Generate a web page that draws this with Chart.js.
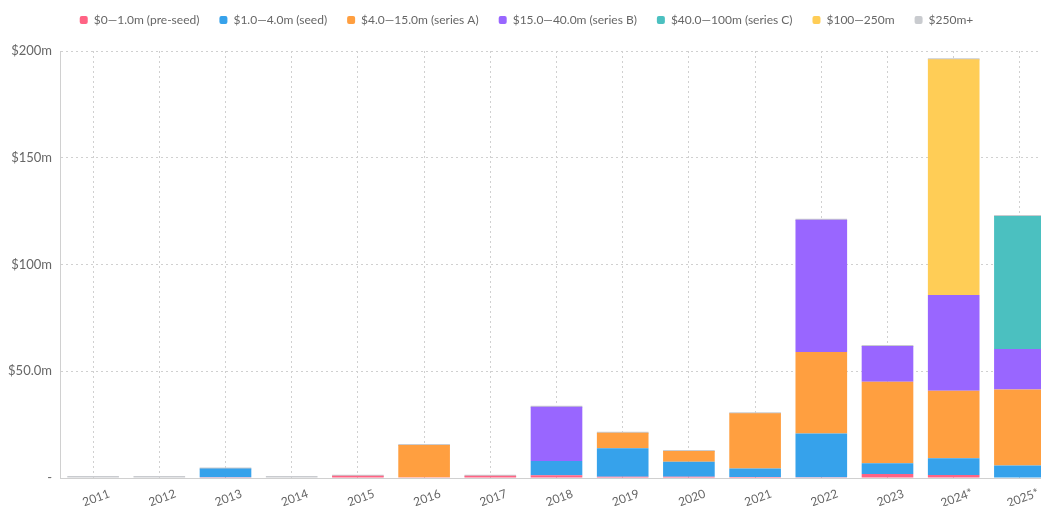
<!DOCTYPE html>
<html>
<head>
<meta charset="utf-8">
<title>Funding by round size</title>
<script src="https://cdn.jsdelivr.net/npm/chart.js@4"></script>
<style>
  html, body { margin: 0; padding: 0; background: #fff; overflow: hidden; }
  #wrap { width: 1053px; height: 506px; }
</style>
</head>
<body>
<div id="wrap"><canvas id="fundingChart" width="1053" height="506"></canvas></div>
<script>
// years + round-size buckets ($m raised)
const years = ['2011', '2012', '2013', '2014', '2015', '2016', '2017', '2018', '2019', '2020', '2021', '2022', '2023', '2024*', '2025*'];

const preSeed  = [0, 0, 0.4, 0, 1.1, 0.4, 1.0, 1.3, 0.6, 0.6, 0.5, 0.4, 1.9, 1.4, 0];
const seed     = [0, 0, 4.1, 0, 0, 0, 0, 6.7, 13.3, 7.0, 4.0, 20.5, 5.0, 7.8, 5.8];
const seriesA  = [0, 0, 0, 0, 0, 15.1, 0, 0, 7.3, 5.0, 25.8, 38.1, 38.2, 31.7, 35.7];
const seriesB  = [0, 0, 0, 0, 0, 0, 0, 25.4, 0, 0, 0, 62.0, 16.7, 44.8, 18.9];
const seriesC  = [0, 0, 0, 0, 0, 0, 0, 0, 0, 0, 0, 0, 0, 0, 62.3];
const growth   = [0, 0, 0, 0, 0, 0, 0, 0, 0, 0, 0, 0, 0, 110.4, 0];
const late     = [0, 0, 0, 0, 0, 0, 0, 0, 0, 0, 0, 0, 0, 0, 0];

const bucketNames = ['$0—1.0m (pre-seed)', '$1.0—4.0m (seed)', '$4.0—15.0m (series A)', '$15.0—40.0m (series B)', '$40.0—100m (series C)', '$100—250m', '$250m+'];
const yTickLabels = ['-', '$50.0m', '$100m', '$150m', '$200m'];

const colors = ['#ff6384', '#36a2eb', '#ff9f40', '#9966ff', '#4bc0c0', '#ffcd56', '#c9cbcf'];
const FONT = 'Lato, "Open Sans", sans-serif';

const dotted = [2, 3];
const gridColor = '#d0d0d0';

// extra room under the legend
const legendMargin = {
  id: 'legendMargin',
  beforeInit(chart) {
    const fit = chart.legend.fit;
    chart.legend.fit = function () {
      fit.bind(chart.legend)();
      this.height += 15;
    };
  }
};

// slanted year labels, centred under each bar
const yearLabels = {
  id: 'yearLabels',
  afterDraw(chart) {
    const ctx = chart.ctx;
    const xs = chart.scales.x;
    const bottom = chart.chartArea.bottom;
    ctx.save();
    ctx.font = '12px ' + FONT;
    ctx.fillStyle = '#666';
    ctx.textAlign = 'center';
    ctx.textBaseline = 'middle';
    years.forEach((y, i) => {
      const x = xs.getPixelForTick(i);
      ctx.save();
      ctx.translate(x + 3, bottom + 20);
      ctx.rotate(-20 * Math.PI / 180);
      ctx.fillText(y, 0, 0);
      ctx.restore();
    });
    ctx.restore();
  }
};

const seriesData = [preSeed, seed, seriesA, seriesB, seriesC, growth, late];

const datasets = seriesData.map((vals, i) => ({
  label: bucketNames[i],
  data: vals,
  backgroundColor: colors[i],
  borderWidth: 0,
  categoryPercentage: 0.8,
  barPercentage: 0.975,
  minBarLength: i === 6 ? 2 : 0 // $250m+ shows as a thin cap
}));

new Chart(document.getElementById('fundingChart'), {
  type: 'bar',
  data: { labels: years, datasets: datasets },
  plugins: [legendMargin, yearLabels],
  options: {
    responsive: false,
    animation: false,
    layout: { padding: { top: -6, left: 0, right: 0, bottom: 0 } },
    plugins: {
      tooltip: { enabled: false },
      legend: {
        position: 'top',
        labels: {
          boxWidth: 8,
          boxHeight: 8,
          useBorderRadius: true,
          borderRadius: 2,
          padding: 20,
          color: '#666',
          font: { family: FONT, size: 12 }
        }
      }
    },
    scales: {
      x: {
        stacked: true,
        grid: { offset: false, color: gridColor, drawTicks: false },
        border: { color: gridColor, dash: dotted },
        ticks: { display: false },
        afterFit(scale) { scale.height = 28; }
      },
      y: {
        stacked: true,
        min: 0,
        max: 200,
        grid: { color: gridColor, drawTicks: false },
        border: { color: gridColor, dash: dotted },
        ticks: {
          stepSize: 50,
          padding: 8,
          color: '#666',
          font: { family: FONT, size: 13 },
          callback: (v, i) => yTickLabels[i]
        },
        afterFit(scale) { scale.width = 60; }
      }
    }
  }
});
</script>
</body>
</html>
